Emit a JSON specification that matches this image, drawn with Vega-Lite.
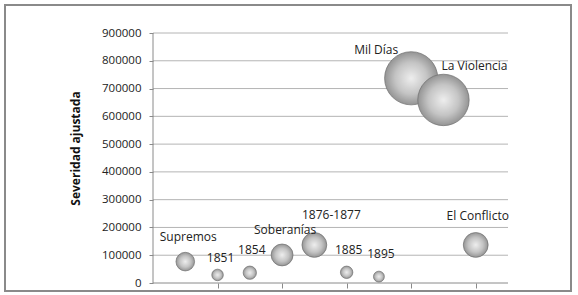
{
  "$schema": "https://vega.github.io/schema/vega-lite/v6.json",
  "width": 566,
  "height": 286,
  "autosize": {"type": "none"},
  "padding": {"left": 5, "top": 5, "right": 7, "bottom": 4},
  "background": "white",
  "config": {
    "view": {"stroke": "#8a8a8a", "strokeWidth": 2},
    "font": "Open Sans"
  },
  "datasets": {
    "guerras": [
      {"conflicto": "Supremos", "orden": 1, "severidad": 77000, "tamano": 441},
      {"conflicto": "1851", "orden": 2, "severidad": 29000, "tamano": 169},
      {"conflicto": "1854", "orden": 3, "severidad": 37000, "tamano": 225},
      {"conflicto": "Soberanías", "orden": 4, "severidad": 101000, "tamano": 610},
      {"conflicto": "1876-1877", "orden": 5, "severidad": 137000, "tamano": 784},
      {"conflicto": "1885", "orden": 6, "severidad": 38500, "tamano": 196},
      {"conflicto": "1895", "orden": 7, "severidad": 23000, "tamano": 151},
      {"conflicto": "Mil Días", "orden": 8, "severidad": 737000, "tamano": 3600},
      {"conflicto": "La Violencia", "orden": 9, "severidad": 659000, "tamano": 3364},
      {"conflicto": "El Conflicto", "orden": 10, "severidad": 137000, "tamano": 784}
    ],
    "rejilla": [
      {"g": 100000}, {"g": 200000}, {"g": 300000}, {"g": 400000}, {"g": 500000},
      {"g": 600000}, {"g": 700000}, {"g": 800000}, {"g": 900000}
    ]
  },
  "layer": [
    {
      "data": {"name": "rejilla"},
      "mark": {"type": "rule", "color": "#b4b4b4", "strokeWidth": 1},
      "encoding": {
        "x": {"datum": 0, "type": "quantitative", "scale": {"domain": [-4.586, 12.952], "nice": false, "zero": false}, "axis": {"offset": -8, "values": [2, 4, 6, 8, 10], "tickCount": 20, "labels": false, "domain": false, "grid": false, "tickSize": 5, "tickColor": "#8a8a8a", "title": null}},
        "x2": {"datum": 11},
        "y": {"field": "g", "type": "quantitative", "scale": {"domain": [-28800, 1000800], "nice": false, "zero": false}, "axis": {"offset": -148, "values": [0, 100000, 200000, 300000, 400000, 500000, 600000, 700000, 800000, 900000], "tickCount": 20, "format": "d", "labelOverlap": false, "labelFlush": false, "domain": false, "grid": false, "ticks": true, "tickSize": 4, "tickColor": "#8a8a8a", "labelPadding": 8, "labelFont": "Open Sans", "labelFontSize": 11.5, "labelColor": "#222222", "title": "Severidad ajustada", "titleFont": "Open Sans", "titleFontWeight": "bold", "titleFontSize": 12, "titleColor": "#111111", "titlePadding": 19}}
      }
    },
    {
      "data": {"values": [{}]},
      "mark": {"type": "rule", "color": "#8a8a8a", "strokeWidth": 1},
      "encoding": {
        "x": {"datum": 0, "type": "quantitative"},
        "x2": {"datum": 11},
        "y": {"datum": 0, "type": "quantitative"}
      }
    },
    {
      "data": {"values": [{}]},
      "mark": {"type": "rule", "color": "#8a8a8a", "strokeWidth": 1},
      "encoding": {
        "x": {"datum": 0, "type": "quantitative"},
        "y": {"datum": 0, "type": "quantitative"},
        "y2": {"datum": 900000}
      }
    },
    {
      "data": {"name": "guerras"},
      "mark": {
        "type": "circle",
        "opacity": 1,
        "fill": {"gradient": "radial", "x1": 0.5, "y1": 0.5, "r1": 0, "x2": 0.5, "y2": 0.5, "r2": 0.5, "stops": [{"offset": 0, "color": "#eeeeee"}, {"offset": 0.6, "color": "#c4c4c4"}, {"offset": 1, "color": "#949494"}]},
        "stroke": "#6e6e6e",
        "strokeWidth": 0.7
      },
      "encoding": {
        "x": {"field": "orden", "type": "quantitative"},
        "y": {"field": "severidad", "type": "quantitative"},
        "size": {"field": "tamano", "type": "quantitative", "scale": {"domain": [0, 3600], "range": [0, 2827]}, "legend": null}
      }
    },
    {
      "data": {"name": "guerras"},
      "transform": [{"filter": {"field": "conflicto", "oneOf": ["Supremos", "Soberanías"]}}],
      "mark": {"type": "text", "font": "Open Sans", "fontSize": 12, "color": "#222222", "align": "center", "baseline": "middle", "dx": 3, "dy": -25},
      "encoding": {"x": {"field": "orden", "type": "quantitative"}, "y": {"field": "severidad", "type": "quantitative"}, "text": {"field": "conflicto"}}
    },
    {
      "data": {"name": "guerras"},
      "transform": [{"filter": {"field": "conflicto", "oneOf": ["1851"]}}],
      "mark": {"type": "text", "font": "Open Sans", "fontSize": 12, "color": "#222222", "align": "center", "baseline": "middle", "dx": 3, "dy": -17},
      "encoding": {"x": {"field": "orden", "type": "quantitative"}, "y": {"field": "severidad", "type": "quantitative"}, "text": {"field": "conflicto"}}
    },
    {
      "data": {"name": "guerras"},
      "transform": [{"filter": {"field": "conflicto", "oneOf": ["1854", "1885", "1895"]}}],
      "mark": {"type": "text", "font": "Open Sans", "fontSize": 12, "color": "#222222", "align": "center", "baseline": "middle", "dx": 2, "dy": -22.5},
      "encoding": {"x": {"field": "orden", "type": "quantitative"}, "y": {"field": "severidad", "type": "quantitative"}, "text": {"field": "conflicto"}}
    },
    {
      "data": {"name": "guerras"},
      "transform": [{"filter": {"field": "conflicto", "oneOf": ["1876-1877"]}}],
      "mark": {"type": "text", "font": "Open Sans", "fontSize": 12, "color": "#222222", "align": "center", "baseline": "middle", "dx": 17, "dy": -30},
      "encoding": {"x": {"field": "orden", "type": "quantitative"}, "y": {"field": "severidad", "type": "quantitative"}, "text": {"field": "conflicto"}}
    },
    {
      "data": {"name": "guerras"},
      "transform": [{"filter": {"field": "conflicto", "oneOf": ["El Conflicto"]}}],
      "mark": {"type": "text", "font": "Open Sans", "fontSize": 12, "color": "#222222", "align": "center", "baseline": "middle", "dx": 2, "dy": -29},
      "encoding": {"x": {"field": "orden", "type": "quantitative"}, "y": {"field": "severidad", "type": "quantitative"}, "text": {"field": "conflicto"}}
    },
    {
      "data": {"name": "guerras"},
      "transform": [{"filter": {"field": "conflicto", "oneOf": ["Mil Días"]}}],
      "mark": {"type": "text", "font": "Open Sans", "fontSize": 12, "color": "#222222", "align": "center", "baseline": "middle", "dx": -35, "dy": -28},
      "encoding": {"x": {"field": "orden", "type": "quantitative"}, "y": {"field": "severidad", "type": "quantitative"}, "text": {"field": "conflicto"}}
    },
    {
      "data": {"name": "guerras"},
      "transform": [{"filter": {"field": "conflicto", "oneOf": ["La Violencia"]}}],
      "mark": {"type": "text", "font": "Open Sans", "fontSize": 12, "color": "#222222", "align": "center", "baseline": "middle", "dx": 31, "dy": -34},
      "encoding": {"x": {"field": "orden", "type": "quantitative"}, "y": {"field": "severidad", "type": "quantitative"}, "text": {"field": "conflicto"}}
    }
  ]
}
